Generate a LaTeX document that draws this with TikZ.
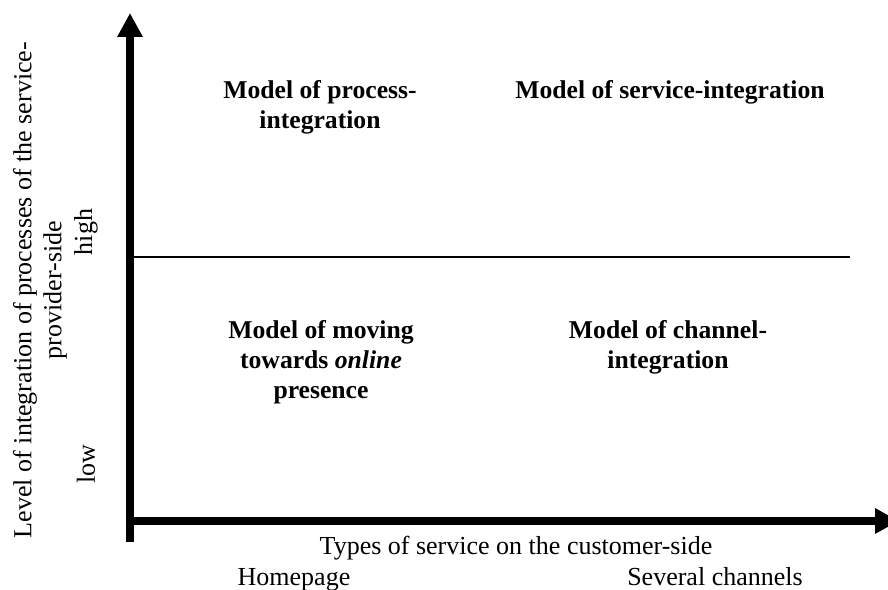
\documentclass[tikz,border=0pt]{standalone}
\usepackage{fontspec}
\setmainfont{Liberation Serif}
\usetikzlibrary{arrows.meta}

\tikzset{
	axis/.style={line width=0.15cm, -{Triangle[width=0.48cm, length=0.48cm]}},
	model/.style={font=\fontsize{14.6pt}{17pt}\selectfont\bfseries, align=center},
	label/.style={font=\fontsize{14.8pt}{17pt}\selectfont, align=center},
}

\begin{document}
\begin{tikzpicture}[x=0.02cm, y=-0.02cm]
		\useasboundingbox (0, 0) rectangle (888, 590);

		% axes
		\coordinate (ybot) at (130, 542);
		\coordinate (ytop) at (130, 13);
		\coordinate (xleft) at (126, 521);
		\coordinate (xright) at (899, 521);
		\draw[axis]	(ybot) to (ytop);
		\draw[axis]	(xleft) to (xright);

		% border between low and high
		\coordinate (mleft) at (130, 257);
		\coordinate (mright) at (850, 257);
		\draw[line width=1pt]	(mleft) to (mright);

		% vertical axis labels
		\node[label, rotate=90] (ylabel) at (40, 290) {Level of integration of processes of the service-\\provider-side};
		\node[label, rotate=90] (high) at (86, 232) {high};
		\node[label, rotate=90] (low) at (86, 464) {low};

		% horizontal axis labels
		\node[label, anchor=base] (xlabel) at (516, 554) {Types of service on the customer-side};
		\node[label, anchor=base] (homepage) at (294, 585) {Homepage};
		\node[label, anchor=base] (channels) at (715, 585) {Several channels};

		% the four models
		\node[model] (process) at (320, 107) {Model of process-\\integration};
		\node[model] (service) at (670, 92) {Model of service-integration};
		\node[model] (online) at (321, 362) {Model of moving\\towards \textit{online}\\presence};
		\node[model] (channel) at (668, 347) {Model of channel-\\integration};
	\end{tikzpicture}
\end{document}
